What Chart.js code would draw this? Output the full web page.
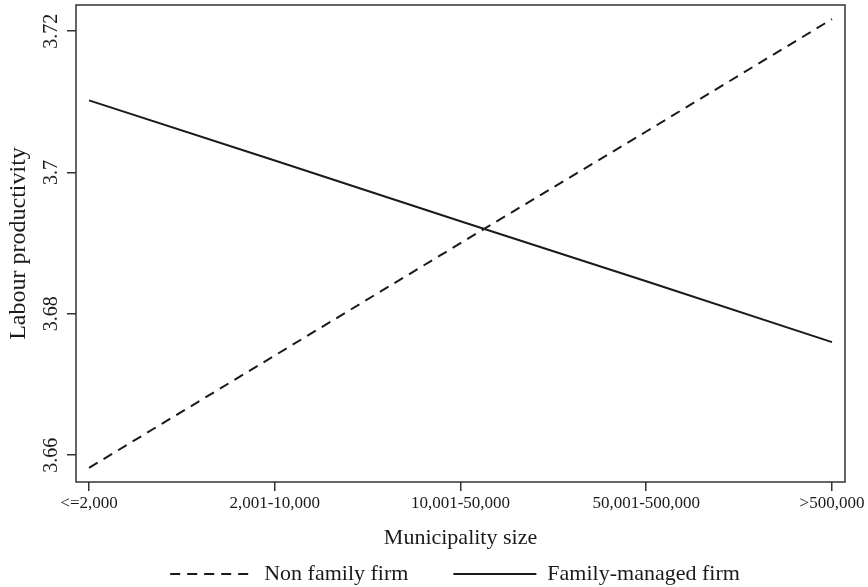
<!DOCTYPE html>
<html>
<head>
<meta charset="utf-8">
<script src="https://cdn.jsdelivr.net/npm/chart.js@4.4.1/dist/chart.umd.min.js"></script>
<style>
  html, body { margin: 0; padding: 0; background: #fff; }
  #wrap { width: 868px; height: 587px; }
</style>
</head>
<body>
<div id="wrap"><canvas id="myChart"></canvas></div>
<script>
// kategóriák és értékek (leolvasva az ábráról)
var kategoriak = ["<=2,000", "2,001-10,000", "10,001-50,000", "50,001-500,000", ">500,000"];
var nemCsaladi = [3.6582, 3.6741, 3.6900, 3.7058, 3.7217];
var csaladi = [3.7102, 3.7017, 3.6931, 3.6846, 3.6760];
var yTicks = [3.66, 3.68, 3.70, 3.72];
var yTickLabels = ["3.66", "3.68", "3.7", "3.72"];

function pontok(ertekek) {
    return ertekek.map(function (v, i) { return { x: i, y: v }; });
}

var serif = "'Liberation Serif', 'Times New Roman', serif";
var sotet = "#1a1a1a";

// keret a rajzterület körül + elforgatott y feliratok
var keret = {
    id: "keret",
    afterDraw: function (chart) {
        var ctx = chart.ctx;
        var a = chart.chartArea;
        ctx.save();
        ctx.strokeStyle = "#333";
        ctx.lineWidth = 1.5;
        ctx.strokeRect(a.left, a.top, a.right - a.left, a.bottom - a.top);

        var y = chart.scales.y;
        ctx.fillStyle = sotet;
        ctx.font = "20px " + serif;
        ctx.textAlign = "center";
        ctx.textBaseline = "middle";
        for (var i = 0; i < yTicks.length; i++) {
            var py = y.getPixelForValue(yTicks[i]);
            ctx.save();
            ctx.translate(52, py);
            ctx.rotate(-Math.PI / 2);
            ctx.fillText(yTickLabels[i], 0, 0);
            ctx.restore();
        }
        ctx.restore();
    }
};

new Chart("myChart", {
    type: "line",
    data: {
        datasets: [
            {
                label: "Non family firm",
                data: pontok(nemCsaladi),
                borderColor: sotet,
                borderWidth: 2,
                borderDash: [10, 7],
                pointRadius: 0,
                fill: false
            },
            {
                label: "Family-managed firm",
                data: pontok(csaladi),
                borderColor: sotet,
                borderWidth: 2,
                pointRadius: 0,
                fill: false
            }
        ]
    },
    options: {
        responsive: true,
        maintainAspectRatio: false,
        animation: false,
        layout: { padding: { left: 4, top: 5, right: 23, bottom: -8 } },
        scales: {
            x: {
                type: "linear",
                min: -0.07,
                max: 4.07,
                afterBuildTicks: function (scale) {
                    scale.ticks = kategoriak.map(function (k, i) { return { value: i }; });
                },
                afterFit: function (scale) { scale.height = 69; },
                grid: { drawOnChartArea: false, tickLength: 9, color: "#333", lineWidth: 1.5 },
                border: { display: false },
                ticks: {
                    color: sotet,
                    font: { family: serif, size: 17 },
                    padding: 2,
                    maxRotation: 0,
                    callback: function (v) { return kategoriak[v]; }
                },
                title: {
                    display: true,
                    text: "Municipality size",
                    color: sotet,
                    font: { family: serif, size: 22 },
                    padding: 0
                }
            },
            y: {
                min: 3.6562,
                max: 3.7237,
                afterBuildTicks: function (scale) {
                    scale.ticks = yTicks.map(function (v) { return { value: v }; });
                },
                afterFit: function (scale) { scale.width = 72; },
                grid: { drawOnChartArea: false, tickLength: 9, color: "#333", lineWidth: 1.5 },
                border: { display: false },
                ticks: { display: false },
                title: {
                    display: true,
                    text: "Labour productivity",
                    color: sotet,
                    font: { family: serif, size: 24 },
                    padding: 0
                }
            }
        },
        plugins: {
            legend: {
                position: "bottom",
                fullSize: false,
                labels: {
                    color: sotet,
                    font: { family: serif, size: 22 },
                    usePointStyle: true,
                    pointStyle: "line",
                    pointStyleWidth: 83,
                    padding: 12,
                    generateLabels: function (chart) {
                        var items = Chart.defaults.plugins.legend.labels.generateLabels(chart);
                        items.forEach(function (it, i) {
                            var ds = chart.data.datasets[i];
                            it.pointStyle = "line";
                            it.lineDash = ds.borderDash || [];
                            it.lineWidth = ds.borderWidth;
                            it.strokeStyle = ds.borderColor;
                        });
                        items[0].text = items[0].text + "\u2003\u2002";
                        items[1].text = items[1].text + "\u2002";
                        return items;
                    }
                }
            },
            tooltip: { enabled: false }
        }
    },
    plugins: [keret]
});
</script>
</body>
</html>
